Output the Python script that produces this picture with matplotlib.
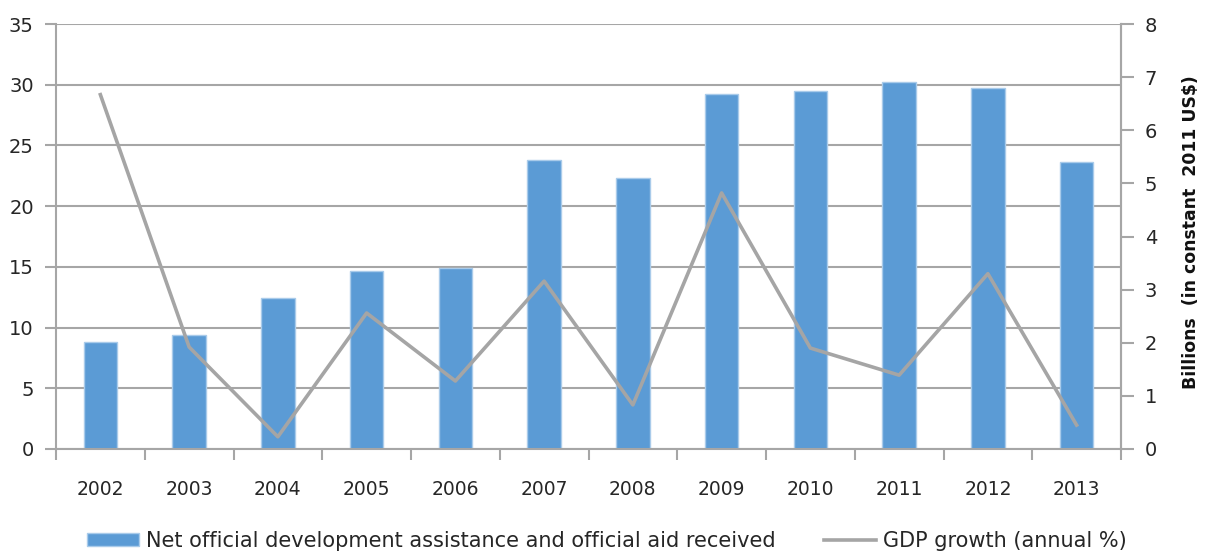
import matplotlib
matplotlib.use("Agg")
import matplotlib.pyplot as plt
from matplotlib.lines import Line2D
from matplotlib.patches import Patch

years = ["2002", "2003", "2004", "2005", "2006", "2007", "2008", "2009", "2010", "2011", "2012", "2013"]
oda = [8.8, 9.4, 12.4, 14.7, 14.9, 23.8, 22.3, 29.2, 29.5, 30.2, 29.7, 23.6]
gdp_growth = [6.67, 1.92, 0.23, 2.56, 1.28, 3.16, 0.83, 4.82, 1.90, 1.39, 3.30, 0.45]
left_ticks = [0, 5, 10, 15, 20, 25, 30, 35]
right_ticks = [0, 1, 2, 3, 4, 5, 6, 7, 8]
bar_label = "Net official development assistance and official aid received"
line_label = "GDP growth (annual %)"
right_label = "Billions  (in constant  2011 US$)"

plt.rcParams['font.family'] = ['DejaVu Sans']
gc = '#A6A6A6'
tc = '#262626'

fig = plt.figure(figsize=(12.09, 5.53), dpi=100)
ax = fig.add_axes([56/1209, 1-449/553, (1121-56)/1209, (449-24)/553])
x = list(range(len(years)))
ax.bar(x, oda, width=0.38, color='#5B9BD5', edgecolor='#A9CBEA', linewidth=1, zorder=2)
ax.set_xlim(-0.5, len(years)-0.5)
ax.set_ylim(0, 35)
ax.set_yticks(left_ticks)
ax.yaxis.grid(True, color=gc, linewidth=1.5, zorder=0)
ax.set_axisbelow(True)
ax.set_xticks(x)
ax.set_xticklabels(years)
ax.set_xticks([i - 0.5 for i in range(len(years)+1)], minor=True)
ax.tick_params(axis='x', which='major', length=0, pad=22, labelsize=13.5, labelcolor=tc)
ax.tick_params(axis='x', which='minor', length=8, width=1.5, color=gc, direction='out')
ax.tick_params(axis='y', length=8, width=1.5, color=gc, labelsize=14, labelcolor=tc, pad=8)
for s in ['left', 'bottom', 'right']:
    ax.spines[s].set_color(gc)
    ax.spines[s].set_linewidth(1.5)
ax.spines['top'].set_visible(False)

ax2 = ax.twinx()
ax2.plot(x, gdp_growth, color='#A5A5A5', linewidth=2.6, zorder=3)
ax2.set_ylim(0, 8)
ax2.set_yticks(right_ticks)
ax2.tick_params(axis='y', length=9, width=1.5, color=gc, labelsize=14, labelcolor=tc, pad=8)
for s in ['left', 'bottom', 'top']:
    ax2.spines[s].set_visible(False)
ax2.spines['right'].set_color(gc)
ax2.spines['right'].set_linewidth(1.5)
fig.text(1191/1209, 1-232/553, right_label, rotation=90, ha='center', va='center',
         fontsize=12.4, fontweight='bold', color='#111111')

handles = [Patch(facecolor='#5B9BD5', edgecolor='#A9CBEA'),
           Line2D([0], [0], color='#A5A5A5', linewidth=2.6)]
fig.legend(handles, [bar_label, line_label], loc='center', ncol=2,
           bbox_to_anchor=(0.502, 1-541/553), frameon=False, fontsize=15,
           handlelength=2.5, handleheight=0.6, handletextpad=0.35, columnspacing=2.3,
           labelcolor=tc)

fig.savefig('out.png', dpi=100)
